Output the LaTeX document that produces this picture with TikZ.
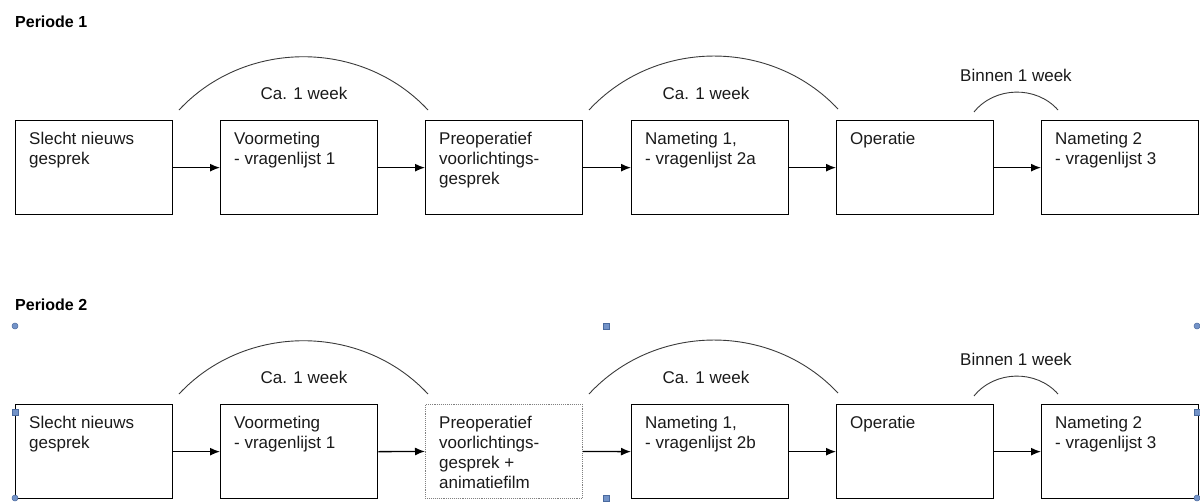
\documentclass[tikz,border=0pt]{standalone}
\usepackage{fontspec}
\setmainfont{Liberation Sans}
\usetikzlibrary{arrows.meta}
\definecolor{txt}{HTML}{1A1A1A}
\definecolor{arcc}{HTML}{3A3A3A}
\definecolor{hfill}{HTML}{7393C8}
\definecolor{hdraw}{HTML}{4A6A9E}
\tikzset{
  box/.style={draw=black, line width=1.3pt, rectangle, anchor=north west, minimum width=157pt, minimum height=94pt, inner sep=0pt},
  selbox/.style={draw=gray, densely dotted, line width=0.9pt, rectangle, anchor=north west, minimum width=157pt, minimum height=94pt, inner sep=0pt},
  btext/.style={anchor=north west, inner sep=0pt, align=left, text=txt, font=\fontsize{17}{20}\selectfont},
  lbl/.style={inner sep=0pt, text=txt, font=\fontsize{17}{20}\selectfont},
  title/.style={anchor=west, inner sep=0pt, text=black, font=\fontsize{16}{19}\selectfont\bfseries},
  arr/.style={line width=1.3pt, -{Latex[length=10pt,width=8pt]}},
  arcline/.style={draw=arcc, line width=0.9pt},
  hcirc/.style={circle, fill=hfill, draw=hdraw, line width=0.5pt, minimum size=6pt, inner sep=0pt},
  hsq/.style={rectangle, fill=hfill, draw=hdraw, line width=0.5pt, minimum size=6pt, inner sep=0pt}
}
\begin{document}
\begin{tikzpicture}[x=1pt,y=1pt]
\useasboundingbox (0,0) rectangle (1200,-501);

% ---------- Periode 1 ----------
\node[title] (t1) at (15,-22) {Periode 1};

\node[box] (a1) at (15,-120) {};
\node[box] (a2) at (220,-120) {};
\node[box] (a3) at (425,-120) {};
\node[box] (a4) at (631,-120) {};
\node[box] (a5) at (836,-120) {};
\node[box] (a6) at (1041,-120) {};

\node[btext] (ta1) at ([shift={(14,-11.7)}]a1.north west) {Slecht nieuws\\gesprek};
\node[btext] (ta2) at ([shift={(14,-11.7)}]a2.north west) {Voormeting\\- vragenlijst 1};
\node[btext] (ta3) at ([shift={(14,-11.7)}]a3.north west) {Preoperatief\\voorlichtings-\\gesprek};
\node[btext] (ta4) at ([shift={(14,-11.7)}]a4.north west) {Nameting 1,\\- vragenlijst 2a};
\node[btext] (ta5) at ([shift={(14,-11.7)}]a5.north west) {Operatie};
\node[btext] (ta6) at ([shift={(14,-11.7)}]a6.north west) {Nameting 2\\- vragenlijst 3};

\draw[arr] (a1.east) -- (a2.west);
\draw[arr] (a2.east) -- (a3.west);
\draw[arr] (a3.east) -- (a4.west);
\draw[arr] (a4.east) -- (a5.west);
\draw[arr] (a5.east) -- (a6.west);

\coordinate (p1s) at (179,-110);
\coordinate (p1e) at (428,-110);
\coordinate (p2s) at (589,-110);
\coordinate (p2e) at (838,-109);
\coordinate (p3s) at (974,-112);
\coordinate (p3e) at (1058,-110);
\draw[arcline] (p1s) to[bend left=47] (p1e);
\draw[arcline] (p2s) to[bend left=47] (p2e);
\draw[arcline] (p3s) to[bend left=50] (p3e);
\node[lbl] (l11) at (304,-93) {Ca. 1 week};
\node[lbl] (l12) at (706,-93) {Ca. 1 week};
\node[lbl] (l13) at (1016,-75) {Binnen 1 week};

% ---------- Periode 2 ----------
\node[title] (t2) at (15,-305) {Periode 2};

\node[box] (b1) at (15,-404) {};
\node[box] (b2) at (220,-404) {};
\node[selbox] (b3) at (425,-404) {};
\node[box] (b4) at (631,-404) {};
\node[box] (b5) at (836,-404) {};
\node[box] (b6) at (1041,-404) {};

\node[btext] (tb1) at ([shift={(14,-11.7)}]b1.north west) {Slecht nieuws\\gesprek};
\node[btext] (tb2) at ([shift={(14,-11.7)}]b2.north west) {Voormeting\\- vragenlijst 1};
\node[btext] (tb3) at ([shift={(14,-11.7)}]b3.north west) {Preoperatief\\voorlichtings-\\gesprek +\\animatiefilm};
\node[btext] (tb4) at ([shift={(14,-11.7)}]b4.north west) {Nameting 1,\\- vragenlijst 2b};
\node[btext] (tb5) at ([shift={(14,-11.7)}]b5.north west) {Operatie};
\node[btext] (tb6) at ([shift={(14,-11.7)}]b6.north west) {Nameting 2\\- vragenlijst 3};

\draw[arr] (b1.east) -- (b2.west);
\draw[arr] (b2.east) -- (b3.west);
\draw[arr] (b3.east) -- (b4.west);
\draw[arr] (b4.east) -- (b5.west);
\draw[arr] (b5.east) -- (b6.west);

\coordinate (q1s) at (179,-394);
\coordinate (q1e) at (428,-394);
\coordinate (q2s) at (589,-394);
\coordinate (q2e) at (838,-393);
\coordinate (q3s) at (974,-396);
\coordinate (q3e) at (1058,-394);
\draw[arcline] (q1s) to[bend left=47] (q1e);
\draw[arcline] (q2s) to[bend left=47] (q2e);
\draw[arcline] (q3s) to[bend left=50] (q3e);
\node[lbl] (l21) at (304,-377) {Ca. 1 week};
\node[lbl] (l22) at (706,-377) {Ca. 1 week};
\node[lbl] (l23) at (1016,-359) {Binnen 1 week};

% selection handles
\node[hcirc] (h1) at (15,-326) {};
\node[hsq] (h2) at (606,-326) {};
\node[hcirc] (h3) at (1197,-326) {};
\node[hsq] (h4) at (15,-412) {};
\node[hsq] (h5) at (1197,-412) {};
\node[hcirc] (h6) at (15,-498) {};
\node[hsq] (h7) at (606,-498) {};
\node[hcirc] (h8) at (1197,-498) {};
\end{tikzpicture}
\end{document}
